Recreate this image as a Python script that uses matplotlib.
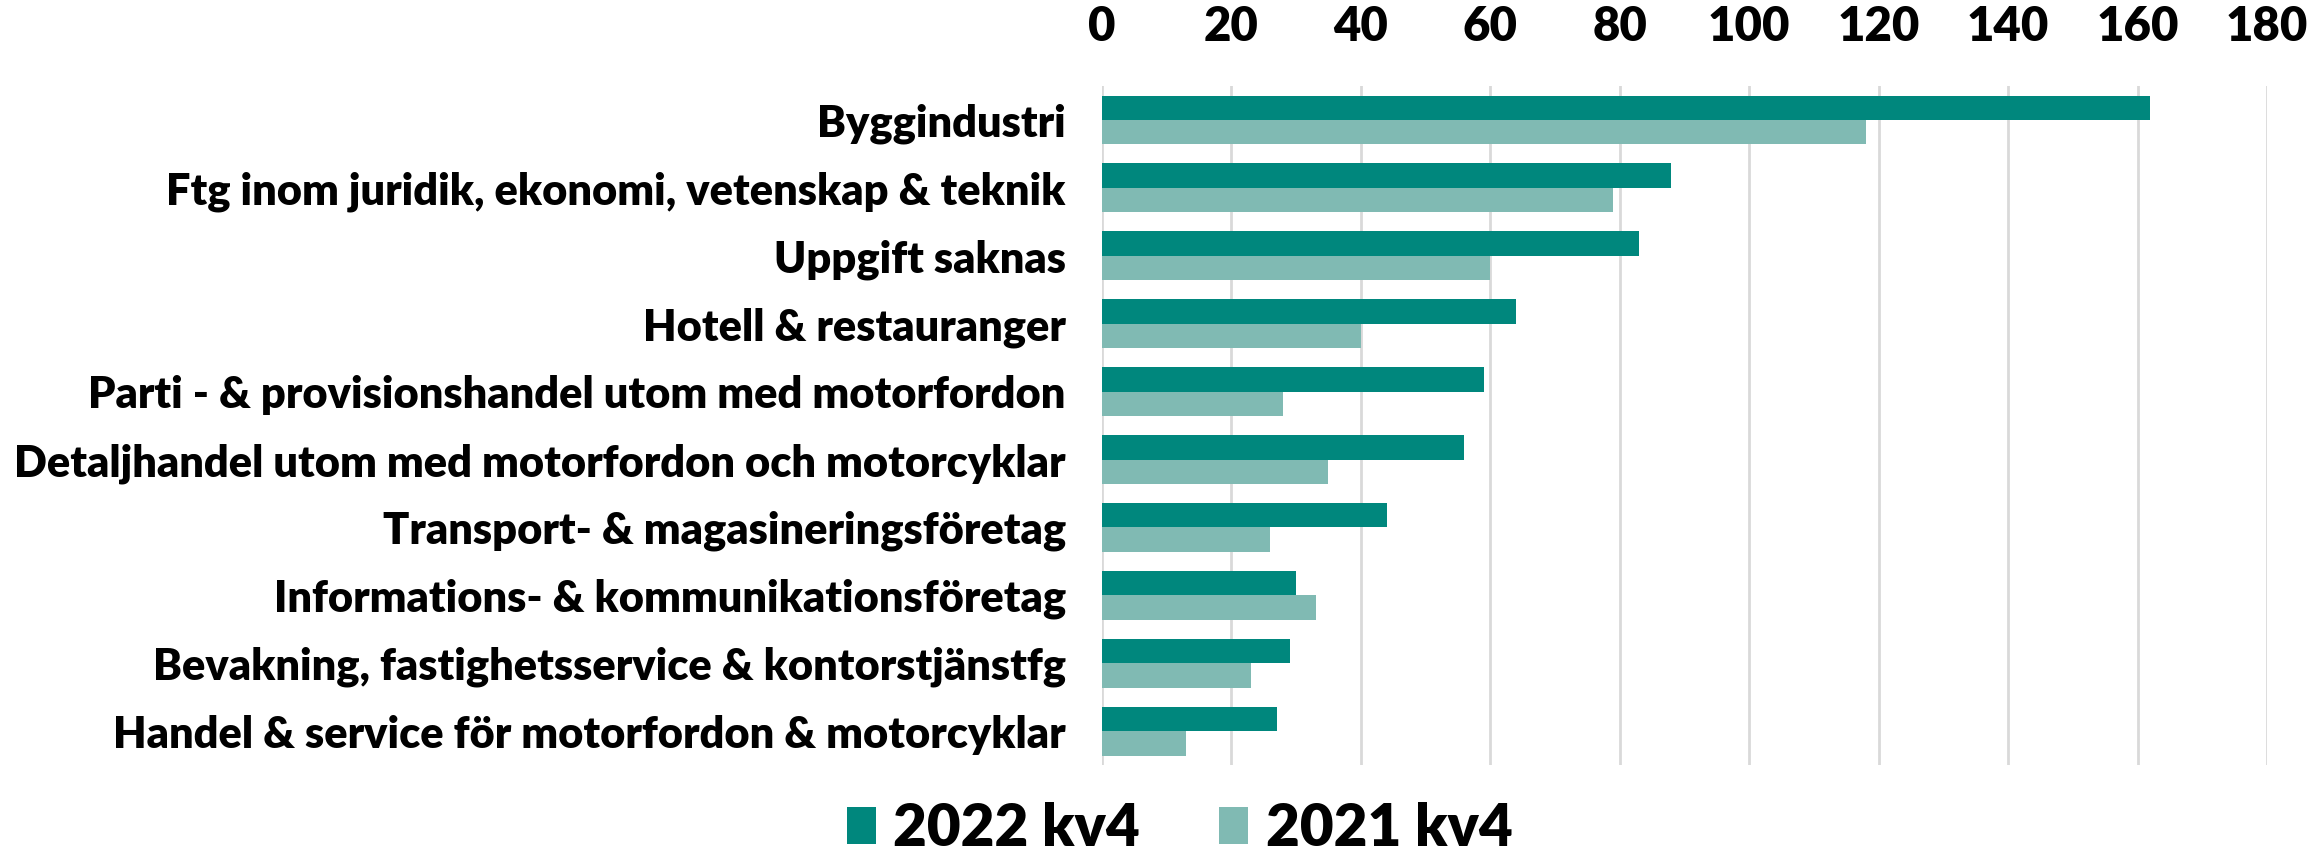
import matplotlib.pyplot as plt
import numpy as np
from matplotlib import font_manager

# branscher, sorterade som i originalet (störst överst)
branscher = [
    'Byggindustri',
    'Ftg inom juridik, ekonomi, vetenskap & teknik',
    'Uppgift saknas',
    'Hotell & restauranger',
    'Parti - & provisionshandel utom med motorfordon',
    'Detaljhandel utom med motorfordon och motorcyklar',
    'Transport- & magasineringsföretag',
    'Informations- & kommunikationsföretag',
    'Bevakning, fastighetsservice & kontorstjänstfg',
    'Handel & service för motorfordon & motorcyklar',
]
kv4_2022 = [162, 88, 83, 64, 59, 56, 44, 30, 29, 27]
kv4_2021 = [118, 79, 60, 40, 28, 35, 26, 33, 23, 13]
xticks = [0, 20, 40, 60, 80, 100, 120, 140, 160, 180]

names = {f.name for f in font_manager.fontManager.ttflist}
fam = 'Lato' if 'Lato' in names else 'DejaVu Sans'
plt.rcParams['font.family'] = [fam, 'DejaVu Sans']
plt.rcParams['font.weight'] = 'bold'

fig = plt.figure(figsize=(23.13, 8.52), dpi=100)
ax = fig.add_axes([0.4764, 0.102, 0.5037, 0.797])

y = np.arange(len(branscher))
h = 0.36
ax.barh(y - h / 2, kv4_2022, height=h, color='#00877d', label='2022 kv4', zorder=3)
ax.barh(y + h / 2, kv4_2021, height=h, color='#80bab3', label='2021 kv4', zorder=3)

ax.set_ylim(len(branscher) - 0.5, -0.5)
ax.set_xlim(0, 180)
ax.set_yticks(y)
ax.set_yticklabels(branscher, fontsize=30, fontweight='heavy')
ax.set_xticks(xticks)
ax.set_xticklabels([str(t) for t in xticks], fontsize=34, fontweight='heavy')
ax.xaxis.tick_top()
ax.tick_params(axis='x', length=0, pad=27)
ax.tick_params(axis='y', length=0, pad=26)
for s in ax.spines.values():
    s.set_visible(False)
ax.grid(axis='x', color='#d9d9d9', linewidth=2, zorder=0)

# krymp etiketterna så att den längsta får plats (ca 1050 px bred)
fig.canvas.draw()
r = fig.canvas.get_renderer()
widest = max(t.get_window_extent(r).width for t in ax.get_yticklabels())
fs = 30 * 1050 / widest
for t in ax.get_yticklabels():
    t.set_fontsize(fs)

fig.legend(loc='center', bbox_to_anchor=(0.51, 0.027), ncol=2, frameon=False,
           prop={'size': 42, 'weight': 'heavy'}, handlelength=0.5, handleheight=0.6,
           handletextpad=0.3, columnspacing=1.35)

fig.savefig('out.png', dpi=100)
